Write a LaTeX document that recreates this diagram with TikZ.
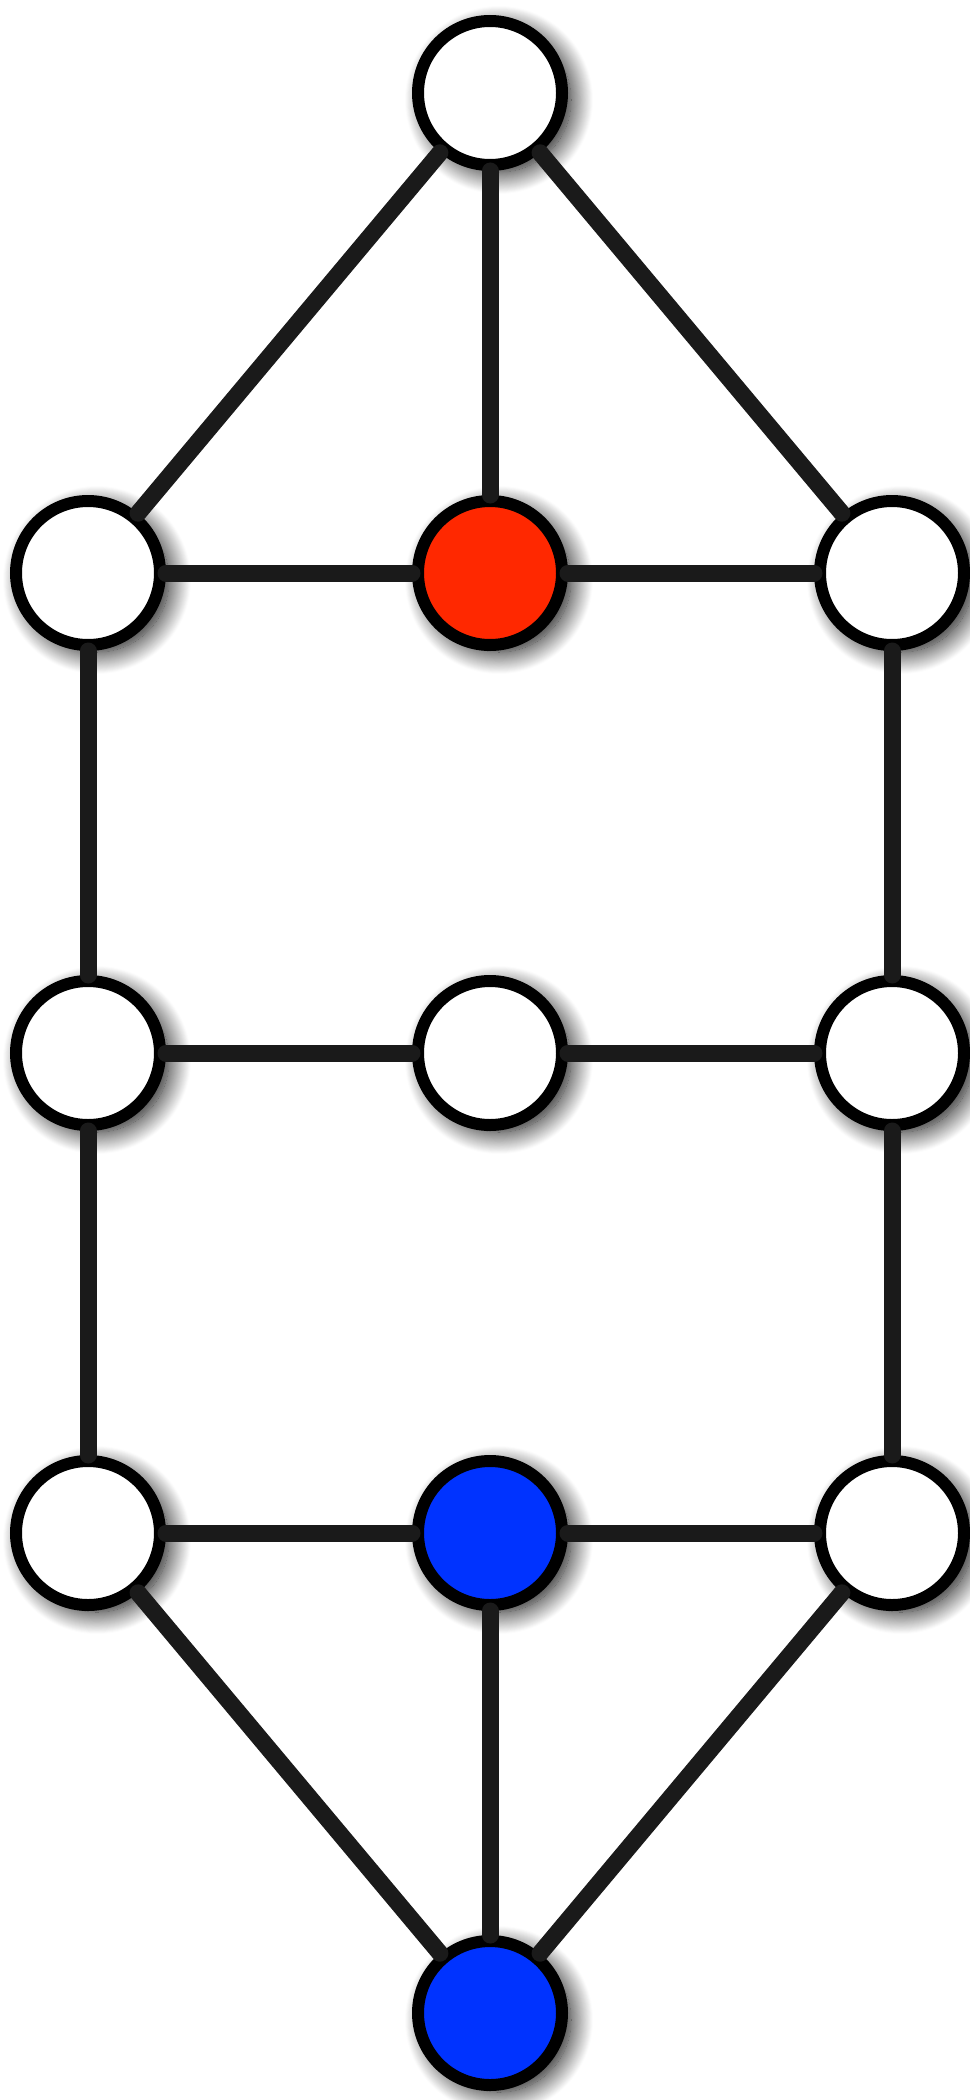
\documentclass[tikz,border=0pt]{standalone}
\usetikzlibrary{shadows.blur}
\definecolor{edgegray}{HTML}{1A1A1A}
\definecolor{hotred}{HTML}{FF2800}
\definecolor{coldblue}{HTML}{0033FF}
\begin{document}
\begin{tikzpicture}[x=1pt,y=-1pt,
    vertex/.style={circle, draw=black, line width=12pt, fill=white,
      minimum size=144pt, inner sep=0pt,
      blur shadow={shadow xshift=9pt, shadow yshift=-7pt,
        shadow blur radius=22pt, shadow blur steps=24, shadow opacity=100}},
    edge/.style={draw=edgegray, line width=17pt, line cap=round}]
  \useasboundingbox (0,0) rectangle (969,2100);
  % vertices
  \node[vertex] (top) at (490,93) {};
  \node[vertex] (l1) at (88,573) {};
  \node[vertex, fill=hotred] (m1) at (490,573) {};
  \node[vertex] (r1) at (892,573) {};
  \node[vertex] (l2) at (88,1053) {};
  \node[vertex] (m2) at (490,1053) {};
  \node[vertex] (r2) at (892,1053) {};
  \node[vertex] (l3) at (88,1533) {};
  \node[vertex, fill=coldblue] (m3) at (490,1533) {};
  \node[vertex] (r3) at (892,1533) {};
  \node[vertex, fill=coldblue] (bot) at (490,2013) {};
  % edges
  \draw[edge] (top) -- (l1);
  \draw[edge] (top) -- (m1);
  \draw[edge] (top) -- (r1);
  \draw[edge] (l1) -- (m1);
  \draw[edge] (m1) -- (r1);
  \draw[edge] (l1) -- (l2);
  \draw[edge] (r1) -- (r2);
  \draw[edge] (l2) -- (m2);
  \draw[edge] (m2) -- (r2);
  \draw[edge] (l2) -- (l3);
  \draw[edge] (r2) -- (r3);
  \draw[edge] (l3) -- (m3);
  \draw[edge] (m3) -- (r3);
  \draw[edge] (l3) -- (bot);
  \draw[edge] (m3) -- (bot);
  \draw[edge] (r3) -- (bot);
\end{tikzpicture}
\end{document}
